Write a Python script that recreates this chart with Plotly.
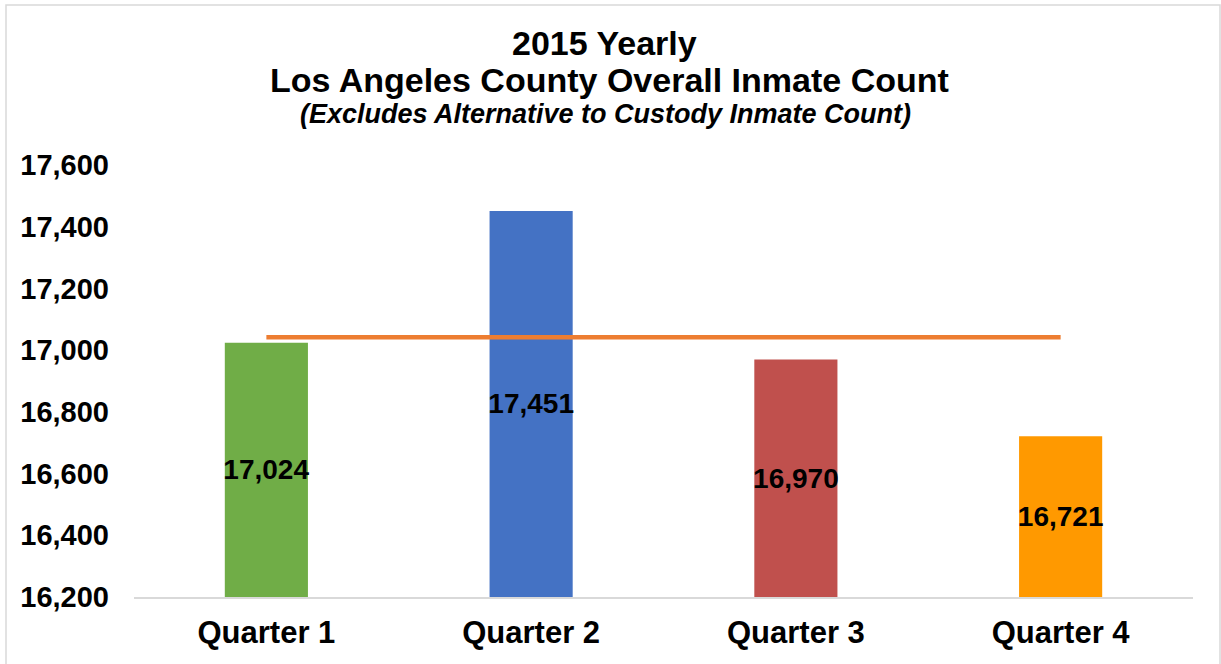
import plotly.graph_objects as go

categories = ["Quarter 1", "Quarter 2", "Quarter 3", "Quarter 4"]
counts = [17024, 17451, 16970, 16721]
bar_colors = ["#70AD47", "#4472C4", "#C0504D", "#FF9900"]
average_line = [17042, 17042, 17042, 17042]
y_ticks = [16200, 16400, 16600, 16800, 17000, 17200, 17400, 17600]
title_lines = ["2015 Yearly", "Los Angeles County Overall Inmate Count",
               "(Excludes Alternative to Custody Inmate Count)"]

FONT = "Liberation Sans, Arial, sans-serif"

# bars start at the axis floor (as in the original chart), so labels sit mid-bar
axis_floor = y_ticks[0]
bar_lengths = [c - axis_floor for c in counts]

fig = go.Figure()
fig.add_trace(go.Bar(
    x=categories, y=bar_lengths, base=axis_floor,
    marker=dict(color=bar_colors, line=dict(width=0)),
    text=[f"{v:,}" for v in counts], textposition="inside", textangle=0,
    insidetextanchor="middle", constraintext="none",
    textfont=dict(family=FONT, size=28, color="black", weight="bold"),
    showlegend=False, hoverinfo="skip",
))
fig.add_trace(go.Scatter(
    x=categories, y=average_line, mode="lines",
    line=dict(color="#ED7D31", width=4.5), showlegend=False, hoverinfo="skip",
))

W, H = 1221, 664
L, R, T, B = 134, 28, 165, 67
pw, ph = W - L - R, H - T - B

def px_x(px):
    return (px - L) / pw

def px_y(py):
    return (H - B - py) / ph

fig.update_layout(
    width=W, height=H,
    margin=dict(l=L, r=R, t=T, b=B, pad=0),
    paper_bgcolor="white", plot_bgcolor="white",
    bargap=0.686,
    font=dict(family=FONT, color="black"),
    xaxis=dict(
        showgrid=False, showline=True, linecolor="#D9D9D9", linewidth=1.5,
        ticks="", tickfont=dict(family=FONT, size=31, weight="bold", color="black"),
        ticklabelstandoff=7,
    ),
    yaxis=dict(
        range=[16200, 17600], tickvals=y_ticks, tickformat=",d",
        showgrid=False, zeroline=False, showline=False, ticks="",
        tickfont=dict(family=FONT, size=29, weight="bold", color="black"),
        ticklabelstandoff=24,
    ),
    shapes=[dict(
        type="rect", xref="paper", yref="paper",
        x0=px_x(6), x1=px_x(1220), y0=px_y(670), y1=px_y(5),
        line=dict(color="#D9D9D9", width=1.5), fillcolor="rgba(0,0,0,0)", layer="below",
    )],
    annotations=[
        dict(text=title_lines[0], xref="paper", yref="paper", x=px_x(604), y=px_y(43),
             xanchor="center", yanchor="middle", showarrow=False,
             font=dict(family=FONT, size=34, weight="bold", color="black")),
        dict(text=title_lines[1], xref="paper", yref="paper", x=px_x(609), y=px_y(80),
             xanchor="center", yanchor="middle", showarrow=False,
             font=dict(family=FONT, size=34, weight="bold", color="black")),
        dict(text=title_lines[2], xref="paper", yref="paper", x=px_x(605), y=px_y(114),
             xanchor="center", yanchor="middle", showarrow=False,
             font=dict(family=FONT, size=27, weight="bold", style="italic", color="black")),
    ],
)

fig.write_html(
    "out.html",
    config={"displayModeBar": False},
    post_script="document.body.style.margin='0';document.body.style.overflow='hidden';",
)
